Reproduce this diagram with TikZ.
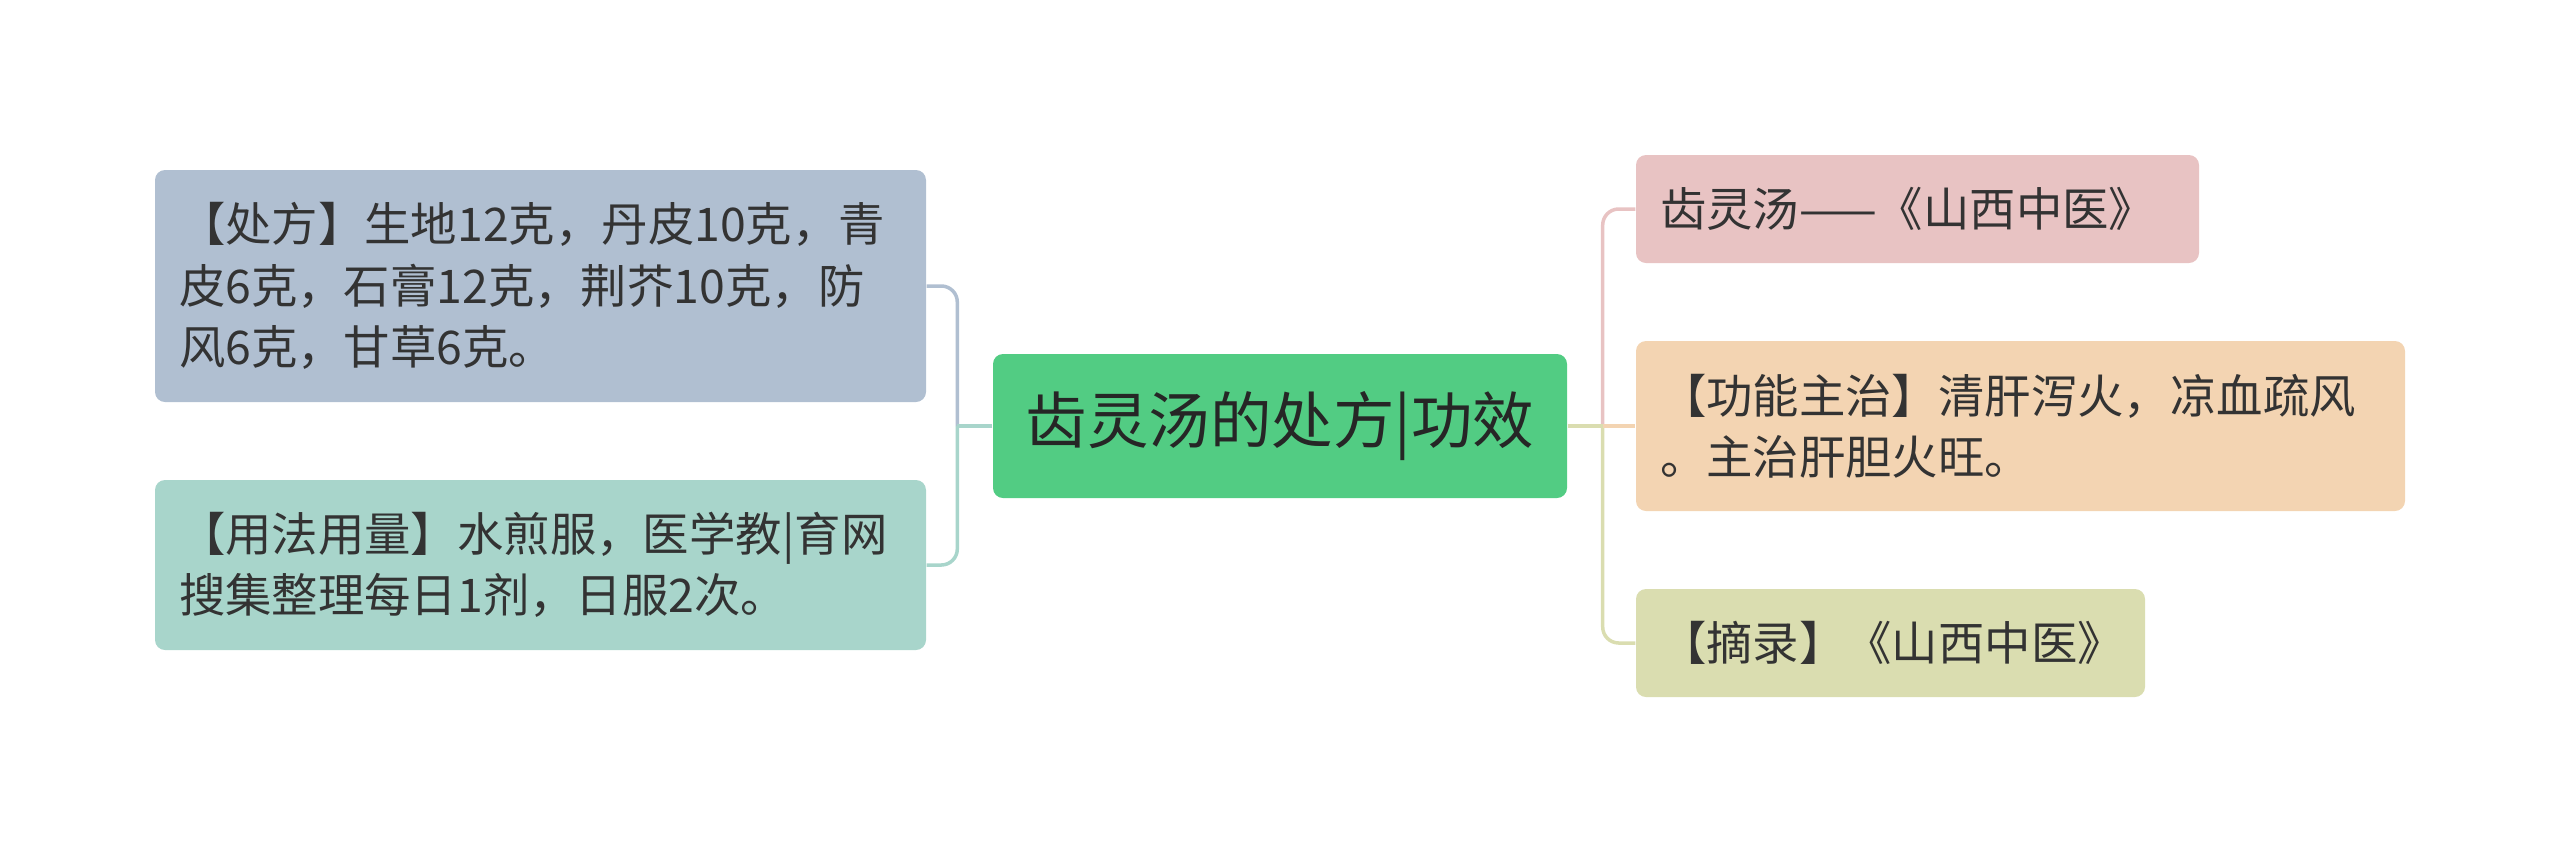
\documentclass[tikz,border=0pt]{standalone}
\usepackage{fontspec}
\newfontfamily\cjk{Noto Sans CJK SC}
\usetikzlibrary{positioning,calc}

\definecolor{ink}{HTML}{333333}
\definecolor{rootgreen}{HTML}{52CC83}
\definecolor{slate}{HTML}{B0BFD1}
\definecolor{mint}{HTML}{A8D5CB}
\definecolor{rose}{HTML}{E8C3C3}
\definecolor{peach}{HTML}{F3D4B2}
\definecolor{olive}{HTML}{DADDB0}

\begin{document}
\begin{tikzpicture}[
  x=0.1mm,
  y=-0.1mm,
  every node/.style={text=ink},
  root/.style={
    rounded corners=1mm,
    fill=rootgreen,
    minimum width=57.4mm,
    minimum height=14.4mm,
    inner sep=0pt,
    font=\cjk\fontsize{17.5pt}{21pt}\selectfont,
    text=black!85
  },
  topic/.style={
    rounded corners=1mm,
    align=left,
    inner xsep=2.4mm,
    inner ysep=0pt,
    font=\cjk\fontsize{13.2pt}{17.4pt}\selectfont
  },
  link/.style={line width=0.35mm, rounded corners=1.6mm}
]
\useasboundingbox (0,0) rectangle (2560,853);

\node[root] (recipe) at (1280,426) {齿灵汤的处方|功效};

\node[topic, fill=slate, text width=72.3mm, minimum height=23.2mm] (formula) at (540.5,286)
  {【处方】生地12克，丹皮10克，青\\皮6克，石膏12克，荆芥10克，防\\风6克，甘草6克。};
\node[topic, fill=mint, text width=72.3mm, minimum height=17mm] (usage) at (540.5,565)
  {【用法用量】水煎服，医学教|育网\\搜集整理每日1剂，日服2次。};

\node[topic, fill=rose, text width=51.5mm, minimum height=10.8mm] (source) at (1917.5,209)
  {齿灵汤——《山西中医》};
\node[topic, fill=peach, text width=72.1mm, minimum height=17mm] (effect) at (2020.5,426)
  {【功能主治】清肝泻火，凉血疏风\\。主治肝胆火旺。};
\node[topic, fill=olive, text width=46.1mm, minimum height=10.8mm] (excerpt) at (1890.5,643)
  {【摘录】《山西中医》};

\coordinate (lhub) at ($(recipe.west)+(-35,0)$);
\coordinate (rhub) at ($(recipe.east)+(35,0)$);

% left branches
\draw[link, slate] (lhub) |- (formula.east);
\draw[link, mint] (lhub) |- (usage.east);
\draw[link, mint] (recipe.west) -- (lhub);

% right branches
\draw[link, rose] (rhub) |- (source.west);
\draw[link, olive] (rhub) |- (excerpt.west);
\draw[link, peach] (rhub) -- (effect.west);
\draw[link, olive] (recipe.east) -- (rhub);

\end{tikzpicture}
\end{document}
